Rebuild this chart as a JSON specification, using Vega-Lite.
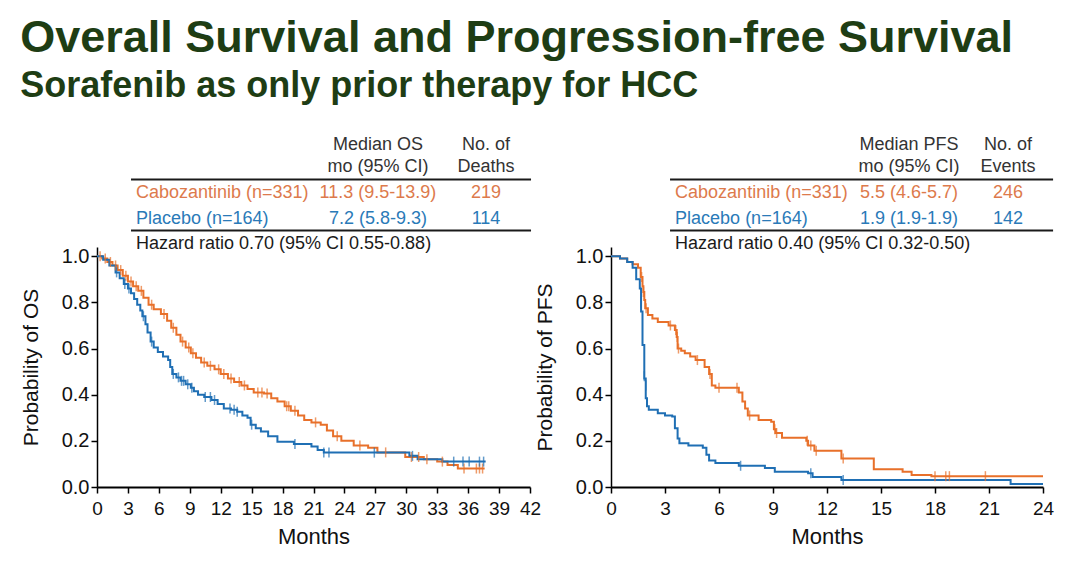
{
  "$schema": "https://vega.github.io/schema/vega-lite/v6.json",
  "background": "white",
  "padding": {"left": 20, "top": 16, "right": 10, "bottom": 10},
  "title": {
    "text": "Overall Survival and Progression-free Survival",
    "subtitle": "Sorafenib as only prior therapy for HCC",
    "anchor": "start",
    "font": "Liberation Sans",
    "fontSize": 45,
    "fontWeight": "bold",
    "color": "#1e3d14",
    "subtitleFont": "Liberation Sans",
    "subtitleFontSize": 36,
    "subtitleFontWeight": "bold",
    "subtitleColor": "#1e3d14",
    "subtitlePadding": 8,
    "offset": 32
  },
  "datasets": {
    "osCurve": [
      {"arm":"Cabozantinib","month":0,"prob":1.0},{"arm":"Cabozantinib","month":0.5,"prob":0.99},{"arm":"Cabozantinib","month":1.0,"prob":0.975},{"arm":"Cabozantinib","month":1.5,"prob":0.96},{"arm":"Cabozantinib","month":2.0,"prob":0.94},{"arm":"Cabozantinib","month":2.5,"prob":0.915},{"arm":"Cabozantinib","month":3.0,"prob":0.89},{"arm":"Cabozantinib","month":3.5,"prob":0.87},{"arm":"Cabozantinib","month":4.0,"prob":0.85},{"arm":"Cabozantinib","month":4.5,"prob":0.82},{"arm":"Cabozantinib","month":5.0,"prob":0.79},{"arm":"Cabozantinib","month":5.5,"prob":0.77},{"arm":"Cabozantinib","month":6.2,"prob":0.75},{"arm":"Cabozantinib","month":6.8,"prob":0.72},{"arm":"Cabozantinib","month":7.2,"prob":0.69},{"arm":"Cabozantinib","month":7.7,"prob":0.66},{"arm":"Cabozantinib","month":8.1,"prob":0.63},{"arm":"Cabozantinib","month":8.6,"prob":0.605},{"arm":"Cabozantinib","month":9.1,"prob":0.58},{"arm":"Cabozantinib","month":9.6,"prob":0.56},{"arm":"Cabozantinib","month":10.1,"prob":0.54},{"arm":"Cabozantinib","month":10.7,"prob":0.525},{"arm":"Cabozantinib","month":11.4,"prob":0.51},{"arm":"Cabozantinib","month":12.0,"prob":0.49},{"arm":"Cabozantinib","month":12.7,"prob":0.47},{"arm":"Cabozantinib","month":13.3,"prob":0.455},{"arm":"Cabozantinib","month":14.0,"prob":0.44},{"arm":"Cabozantinib","month":14.6,"prob":0.425},{"arm":"Cabozantinib","month":15.2,"prob":0.41},{"arm":"Cabozantinib","month":16.2,"prob":0.405},{"arm":"Cabozantinib","month":16.9,"prob":0.385},{"arm":"Cabozantinib","month":17.5,"prob":0.37},{"arm":"Cabozantinib","month":18.2,"prob":0.35},{"arm":"Cabozantinib","month":18.8,"prob":0.33},{"arm":"Cabozantinib","month":19.5,"prob":0.31},{"arm":"Cabozantinib","month":20.1,"prob":0.29},{"arm":"Cabozantinib","month":20.8,"prob":0.28},{"arm":"Cabozantinib","month":21.7,"prob":0.27},{"arm":"Cabozantinib","month":22.3,"prob":0.245},{"arm":"Cabozantinib","month":22.9,"prob":0.22},{"arm":"Cabozantinib","month":23.7,"prob":0.2},{"arm":"Cabozantinib","month":24.9,"prob":0.18},{"arm":"Cabozantinib","month":26.3,"prob":0.17},{"arm":"Cabozantinib","month":27.2,"prob":0.15},{"arm":"Cabozantinib","month":29.9,"prob":0.13},{"arm":"Cabozantinib","month":31.7,"prob":0.12},{"arm":"Cabozantinib","month":33.0,"prob":0.11},{"arm":"Cabozantinib","month":34.0,"prob":0.095},{"arm":"Cabozantinib","month":35.0,"prob":0.08},{"arm":"Cabozantinib","month":37.6,"prob":0.08},
      {"arm":"Placebo","month":0,"prob":1.0},{"arm":"Placebo","month":0.6,"prob":0.985},{"arm":"Placebo","month":1.2,"prob":0.96},{"arm":"Placebo","month":1.8,"prob":0.93},{"arm":"Placebo","month":2.2,"prob":0.905},{"arm":"Placebo","month":2.6,"prob":0.88},{"arm":"Placebo","month":3.0,"prob":0.86},{"arm":"Placebo","month":3.3,"prob":0.84},{"arm":"Placebo","month":3.6,"prob":0.815},{"arm":"Placebo","month":3.9,"prob":0.79},{"arm":"Placebo","month":4.2,"prob":0.765},{"arm":"Placebo","month":4.4,"prob":0.74},{"arm":"Placebo","month":4.7,"prob":0.705},{"arm":"Placebo","month":4.9,"prob":0.67},{"arm":"Placebo","month":5.2,"prob":0.63},{"arm":"Placebo","month":5.5,"prob":0.605},{"arm":"Placebo","month":5.9,"prob":0.585},{"arm":"Placebo","month":6.4,"prob":0.565},{"arm":"Placebo","month":6.9,"prob":0.55},{"arm":"Placebo","month":7.1,"prob":0.52},{"arm":"Placebo","month":7.3,"prob":0.49},{"arm":"Placebo","month":7.7,"prob":0.475},{"arm":"Placebo","month":8.1,"prob":0.46},{"arm":"Placebo","month":8.6,"prob":0.445},{"arm":"Placebo","month":9.1,"prob":0.43},{"arm":"Placebo","month":9.4,"prob":0.415},{"arm":"Placebo","month":9.8,"prob":0.4},{"arm":"Placebo","month":10.4,"prob":0.39},{"arm":"Placebo","month":11.1,"prob":0.377},{"arm":"Placebo","month":11.7,"prob":0.36},{"arm":"Placebo","month":12.3,"prob":0.34},{"arm":"Placebo","month":13.0,"prob":0.335},{"arm":"Placebo","month":13.6,"prob":0.326},{"arm":"Placebo","month":14.1,"prob":0.31},{"arm":"Placebo","month":14.6,"prob":0.3},{"arm":"Placebo","month":14.9,"prob":0.27},{"arm":"Placebo","month":15.4,"prob":0.255},{"arm":"Placebo","month":15.9,"prob":0.24},{"arm":"Placebo","month":16.6,"prob":0.22},{"arm":"Placebo","month":17.5,"prob":0.196},{"arm":"Placebo","month":19.1,"prob":0.186},{"arm":"Placebo","month":20.8,"prob":0.175},{"arm":"Placebo","month":21.4,"prob":0.16},{"arm":"Placebo","month":22.0,"prob":0.149},{"arm":"Placebo","month":30.3,"prob":0.135},{"arm":"Placebo","month":31.1,"prob":0.12},{"arm":"Placebo","month":33.5,"prob":0.11},{"arm":"Placebo","month":37.7,"prob":0.11}
    ],
    "osCensor": [
      {"arm":"Cabozantinib","month":0.3,"prob":1.0},{"arm":"Cabozantinib","month":0.8,"prob":0.99},{"arm":"Cabozantinib","month":1.3,"prob":0.975},{"arm":"Cabozantinib","month":1.8,"prob":0.96},{"arm":"Cabozantinib","month":2.3,"prob":0.94},{"arm":"Cabozantinib","month":2.8,"prob":0.915},{"arm":"Cabozantinib","month":3.3,"prob":0.89},{"arm":"Cabozantinib","month":3.8,"prob":0.87},{"arm":"Cabozantinib","month":4.3,"prob":0.85},{"arm":"Cabozantinib","month":5.3,"prob":0.79},{"arm":"Cabozantinib","month":6.5,"prob":0.75},{"arm":"Cabozantinib","month":7.4,"prob":0.69},{"arm":"Cabozantinib","month":8.3,"prob":0.63},{"arm":"Cabozantinib","month":8.9,"prob":0.605},{"arm":"Cabozantinib","month":9.3,"prob":0.58},{"arm":"Cabozantinib","month":10.4,"prob":0.54},{"arm":"Cabozantinib","month":11.0,"prob":0.525},{"arm":"Cabozantinib","month":11.8,"prob":0.51},{"arm":"Cabozantinib","month":12.3,"prob":0.49},{"arm":"Cabozantinib","month":13.0,"prob":0.47},{"arm":"Cabozantinib","month":13.8,"prob":0.455},{"arm":"Cabozantinib","month":14.3,"prob":0.44},{"arm":"Cabozantinib","month":15.6,"prob":0.41},{"arm":"Cabozantinib","month":16.0,"prob":0.41},{"arm":"Cabozantinib","month":16.5,"prob":0.405},{"arm":"Cabozantinib","month":18.4,"prob":0.35},{"arm":"Cabozantinib","month":18.6,"prob":0.35},{"arm":"Cabozantinib","month":19.2,"prob":0.33},{"arm":"Cabozantinib","month":21.2,"prob":0.28},{"arm":"Cabozantinib","month":23.3,"prob":0.22},{"arm":"Cabozantinib","month":25.5,"prob":0.18},{"arm":"Cabozantinib","month":28.0,"prob":0.15},{"arm":"Cabozantinib","month":30.5,"prob":0.13},{"arm":"Cabozantinib","month":31.2,"prob":0.13},{"arm":"Cabozantinib","month":32.0,"prob":0.12},{"arm":"Cabozantinib","month":33.5,"prob":0.11},{"arm":"Cabozantinib","month":35.6,"prob":0.08},{"arm":"Cabozantinib","month":36.8,"prob":0.08},{"arm":"Cabozantinib","month":37.1,"prob":0.08},{"arm":"Cabozantinib","month":37.4,"prob":0.08},
      {"arm":"Placebo","month":1.9,"prob":0.93},{"arm":"Placebo","month":2.7,"prob":0.88},{"arm":"Placebo","month":3.1,"prob":0.86},{"arm":"Placebo","month":4.5,"prob":0.74},{"arm":"Placebo","month":5.3,"prob":0.63},{"arm":"Placebo","month":7.4,"prob":0.49},{"arm":"Placebo","month":7.9,"prob":0.475},{"arm":"Placebo","month":8.2,"prob":0.46},{"arm":"Placebo","month":8.4,"prob":0.46},{"arm":"Placebo","month":8.8,"prob":0.445},{"arm":"Placebo","month":9.2,"prob":0.43},{"arm":"Placebo","month":10.5,"prob":0.39},{"arm":"Placebo","month":11.0,"prob":0.39},{"arm":"Placebo","month":11.4,"prob":0.377},{"arm":"Placebo","month":12.9,"prob":0.34},{"arm":"Placebo","month":13.3,"prob":0.335},{"arm":"Placebo","month":13.6,"prob":0.326},{"arm":"Placebo","month":15.0,"prob":0.27},{"arm":"Placebo","month":19.2,"prob":0.186},{"arm":"Placebo","month":22.0,"prob":0.149},{"arm":"Placebo","month":22.5,"prob":0.149},{"arm":"Placebo","month":26.9,"prob":0.149},{"arm":"Placebo","month":30.6,"prob":0.135},{"arm":"Placebo","month":34.6,"prob":0.11},{"arm":"Placebo","month":35.5,"prob":0.11},{"arm":"Placebo","month":36.1,"prob":0.11},{"arm":"Placebo","month":37.1,"prob":0.11},{"arm":"Placebo","month":37.5,"prob":0.11}
    ],
    "pfsCurve": [
      {"arm":"Cabozantinib","month":0,"prob":1.0},{"arm":"Cabozantinib","month":0.5,"prob":0.99},{"arm":"Cabozantinib","month":0.9,"prob":0.975},{"arm":"Cabozantinib","month":1.2,"prob":0.965},{"arm":"Cabozantinib","month":1.5,"prob":0.95},{"arm":"Cabozantinib","month":1.65,"prob":0.91},{"arm":"Cabozantinib","month":1.75,"prob":0.87},{"arm":"Cabozantinib","month":1.8,"prob":0.845},{"arm":"Cabozantinib","month":1.85,"prob":0.81},{"arm":"Cabozantinib","month":1.9,"prob":0.775},{"arm":"Cabozantinib","month":2.05,"prob":0.745},{"arm":"Cabozantinib","month":2.3,"prob":0.73},{"arm":"Cabozantinib","month":2.6,"prob":0.715},{"arm":"Cabozantinib","month":3.2,"prob":0.7},{"arm":"Cabozantinib","month":3.55,"prob":0.68},{"arm":"Cabozantinib","month":3.65,"prob":0.65},{"arm":"Cabozantinib","month":3.7,"prob":0.6},{"arm":"Cabozantinib","month":3.9,"prob":0.59},{"arm":"Cabozantinib","month":4.1,"prob":0.58},{"arm":"Cabozantinib","month":4.4,"prob":0.565},{"arm":"Cabozantinib","month":4.7,"prob":0.55},{"arm":"Cabozantinib","month":5.2,"prob":0.52},{"arm":"Cabozantinib","month":5.45,"prob":0.49},{"arm":"Cabozantinib","month":5.6,"prob":0.44},{"arm":"Cabozantinib","month":5.8,"prob":0.43},{"arm":"Cabozantinib","month":7.1,"prob":0.41},{"arm":"Cabozantinib","month":7.3,"prob":0.37},{"arm":"Cabozantinib","month":7.45,"prob":0.34},{"arm":"Cabozantinib","month":7.6,"prob":0.31},{"arm":"Cabozantinib","month":8.2,"prob":0.29},{"arm":"Cabozantinib","month":8.9,"prob":0.283},{"arm":"Cabozantinib","month":9.05,"prob":0.25},{"arm":"Cabozantinib","month":9.15,"prob":0.234},{"arm":"Cabozantinib","month":9.5,"prob":0.213},{"arm":"Cabozantinib","month":10.85,"prob":0.2},{"arm":"Cabozantinib","month":10.95,"prob":0.18},{"arm":"Cabozantinib","month":11.3,"prob":0.157},{"arm":"Cabozantinib","month":12.8,"prob":0.124},{"arm":"Cabozantinib","month":14.6,"prob":0.077},{"arm":"Cabozantinib","month":16.2,"prob":0.066},{"arm":"Cabozantinib","month":16.7,"prob":0.052},{"arm":"Cabozantinib","month":17.8,"prob":0.047},{"arm":"Cabozantinib","month":24,"prob":0.047},
      {"arm":"Placebo","month":0,"prob":1.0},{"arm":"Placebo","month":0.5,"prob":0.99},{"arm":"Placebo","month":0.9,"prob":0.975},{"arm":"Placebo","month":1.2,"prob":0.95},{"arm":"Placebo","month":1.4,"prob":0.9},{"arm":"Placebo","month":1.6,"prob":0.86},{"arm":"Placebo","month":1.67,"prob":0.76},{"arm":"Placebo","month":1.75,"prob":0.615},{"arm":"Placebo","month":1.85,"prob":0.47},{"arm":"Placebo","month":1.93,"prob":0.385},{"arm":"Placebo","month":2.0,"prob":0.35},{"arm":"Placebo","month":2.1,"prob":0.335},{"arm":"Placebo","month":2.6,"prob":0.32},{"arm":"Placebo","month":3.0,"prob":0.31},{"arm":"Placebo","month":3.4,"prob":0.305},{"arm":"Placebo","month":3.55,"prob":0.255},{"arm":"Placebo","month":3.7,"prob":0.21},{"arm":"Placebo","month":3.8,"prob":0.19},{"arm":"Placebo","month":4.3,"prob":0.18},{"arm":"Placebo","month":5.1,"prob":0.17},{"arm":"Placebo","month":5.3,"prob":0.14},{"arm":"Placebo","month":5.45,"prob":0.115},{"arm":"Placebo","month":5.8,"prob":0.104},{"arm":"Placebo","month":7.1,"prob":0.092},{"arm":"Placebo","month":8.55,"prob":0.082},{"arm":"Placebo","month":9.1,"prob":0.066},{"arm":"Placebo","month":10.95,"prob":0.06},{"arm":"Placebo","month":11.2,"prob":0.043},{"arm":"Placebo","month":12.8,"prob":0.03},{"arm":"Placebo","month":22.2,"prob":0.013},{"arm":"Placebo","month":24,"prob":0.013}
    ],
    "pfsCensor": [
      {"arm":"Cabozantinib","month":1.7,"prob":0.91},{"arm":"Cabozantinib","month":1.8,"prob":0.845},{"arm":"Cabozantinib","month":1.95,"prob":0.775},{"arm":"Cabozantinib","month":3.3,"prob":0.7},{"arm":"Cabozantinib","month":3.6,"prob":0.68},{"arm":"Cabozantinib","month":3.68,"prob":0.65},{"arm":"Cabozantinib","month":3.75,"prob":0.6},{"arm":"Cabozantinib","month":4.8,"prob":0.55},{"arm":"Cabozantinib","month":5.5,"prob":0.49},{"arm":"Cabozantinib","month":6.0,"prob":0.43},{"arm":"Cabozantinib","month":7.0,"prob":0.43},{"arm":"Cabozantinib","month":7.7,"prob":0.31},{"arm":"Cabozantinib","month":9.1,"prob":0.25},{"arm":"Cabozantinib","month":9.2,"prob":0.234},{"arm":"Cabozantinib","month":10.9,"prob":0.2},{"arm":"Cabozantinib","month":11.1,"prob":0.18},{"arm":"Cabozantinib","month":11.4,"prob":0.157},{"arm":"Cabozantinib","month":12.9,"prob":0.124},{"arm":"Cabozantinib","month":18.0,"prob":0.047},{"arm":"Cabozantinib","month":18.6,"prob":0.047},{"arm":"Cabozantinib","month":18.8,"prob":0.047},{"arm":"Cabozantinib","month":20.8,"prob":0.047},
      {"arm":"Placebo","month":1.67,"prob":0.8},{"arm":"Placebo","month":1.85,"prob":0.48},{"arm":"Placebo","month":1.93,"prob":0.44},{"arm":"Placebo","month":7.2,"prob":0.092},{"arm":"Placebo","month":11.1,"prob":0.06},{"arm":"Placebo","month":12.9,"prob":0.03}
    ],
    "osTable": [
      {"month":27.25,"prob":1.482,"label":"Median OS","role":"header","col":"c"},
      {"month":27.25,"prob":1.386,"label":"mo (95% CI)","role":"header","col":"c"},
      {"month":37.73,"prob":1.482,"label":"No. of","role":"header","col":"c"},
      {"month":37.73,"prob":1.386,"label":"Deaths","role":"header","col":"c"},
      {"month":3.78,"prob":1.274,"label":"Cabozantinib (n=331)","role":"Cabozantinib","col":"l"},
      {"month":27.25,"prob":1.274,"label":"11.3 (9.5-13.9)","role":"Cabozantinib","col":"c"},
      {"month":37.73,"prob":1.274,"label":"219","role":"Cabozantinib","col":"c"},
      {"month":3.78,"prob":1.163,"label":"Placebo (n=164)","role":"Placebo","col":"l"},
      {"month":27.25,"prob":1.163,"label":"7.2 (5.8-9.3)","role":"Placebo","col":"c"},
      {"month":37.73,"prob":1.163,"label":"114","role":"Placebo","col":"c"},
      {"month":3.78,"prob":1.051,"label":"Hazard ratio 0.70 (95% CI 0.55-0.88)","role":"hr","col":"l"}
    ],
    "osRules": [
      {"month":3.3,"month2":42.1,"prob":1.332},
      {"month":3.3,"month2":42.1,"prob":1.111}
    ],
    "pfsTable": [
      {"month":16.56,"prob":1.482,"label":"Median PFS","role":"header","col":"c"},
      {"month":16.56,"prob":1.386,"label":"mo (95% CI)","role":"header","col":"c"},
      {"month":22.06,"prob":1.482,"label":"No. of","role":"header","col":"c"},
      {"month":22.06,"prob":1.386,"label":"Events","role":"header","col":"c"},
      {"month":3.56,"prob":1.274,"label":"Cabozantinib (n=331)","role":"Cabozantinib","col":"l"},
      {"month":16.56,"prob":1.274,"label":"5.5 (4.6-5.7)","role":"Cabozantinib","col":"c"},
      {"month":22.06,"prob":1.274,"label":"246","role":"Cabozantinib","col":"c"},
      {"month":3.56,"prob":1.163,"label":"Placebo (n=164)","role":"Placebo","col":"l"},
      {"month":16.56,"prob":1.163,"label":"1.9 (1.9-1.9)","role":"Placebo","col":"c"},
      {"month":22.06,"prob":1.163,"label":"142","role":"Placebo","col":"c"},
      {"month":3.56,"prob":1.051,"label":"Hazard ratio 0.40 (95% CI 0.32-0.50)","role":"hr","col":"l"}
    ],
    "pfsRules": [
      {"month":3.28,"month2":24.56,"prob":1.332},
      {"month":3.28,"month2":24.56,"prob":1.111}
    ]
  },
  "spacing": -7,
  "resolve": {"scale": {"x": "independent", "y": "independent"}},
  "hconcat": [
    {
      "width": 433,
      "height": 240,
      "layer": [
        {
          "data": {"name": "osCurve"},
          "mark": {"type": "line", "interpolate": "step-after", "strokeWidth": 2},
          "encoding": {
            "x": {"field": "month", "type": "quantitative", "title": "Months", "scale": {"domain": [0, 42], "nice": false}, "axis": {"values": [0,3,6,9,12,15,18,21,24,27,30,33,36,39,42], "labelOverlap": false, "labelSeparation": -12}},
            "y": {"field": "prob", "type": "quantitative", "title": "Probability of OS", "scale": {"domain": [0, 1.04], "nice": false}, "axis": {"values": [0,0.2,0.4,0.6,0.8,1.0], "format": ".1f"}},
            "color": {"field": "arm", "type": "nominal", "scale": {"domain": ["Cabozantinib", "Placebo"], "range": ["#e8702a", "#1f6fb4"]}, "legend": null},
            "detail": {"field": "arm"}
          }
        },
        {
          "data": {"name": "osCensor"},
          "mark": {"type": "tick", "orient": "vertical", "size": 10, "thickness": 1.5},
          "encoding": {
            "x": {"field": "month", "type": "quantitative", "title": "Months", "axis": {"values": [0,3,6,9,12,15,18,21,24,27,30,33,36,39,42], "labelOverlap": false, "labelSeparation": -12}},
            "y": {"field": "prob", "type": "quantitative", "title": "Probability of OS"},
            "color": {"field": "arm", "type": "nominal", "legend": null}
          }
        },
        {
          "data": {"name": "osRules"},
          "mark": {"type": "rule", "strokeWidth": 2, "color": "#1a1a1a"},
          "encoding": {
            "x": {"field": "month", "type": "quantitative", "title": "Months", "axis": {"values": [0,3,6,9,12,15,18,21,24,27,30,33,36,39,42], "labelOverlap": false, "labelSeparation": -12}},
            "x2": {"field": "month2"},
            "y": {"field": "prob", "type": "quantitative", "title": "Probability of OS"}
          }
        },
        {
          "data": {"name": "osTable"},
          "transform": [{"filter": "datum.col == 'l'"}],
          "mark": {"type": "text", "align": "left", "baseline": "middle", "fontSize": 18, "font": "Liberation Sans"},
          "encoding": {
            "x": {"field": "month", "type": "quantitative", "title": "Months", "axis": {"values": [0,3,6,9,12,15,18,21,24,27,30,33,36,39,42], "labelOverlap": false, "labelSeparation": -12}},
            "y": {"field": "prob", "type": "quantitative", "title": "Probability of OS"},
            "text": {"field": "label"},
            "fill": {"field": "role", "type": "nominal", "scale": {"domain": ["header", "Cabozantinib", "Placebo", "hr"], "range": ["#333333", "#dd7a4c", "#2a7ab8", "#1a1a1a"]}, "legend": null}
          }
        },
        {
          "data": {"name": "osTable"},
          "transform": [{"filter": "datum.col == 'c'"}],
          "mark": {"type": "text", "align": "center", "baseline": "middle", "fontSize": 18, "font": "Liberation Sans"},
          "encoding": {
            "x": {"field": "month", "type": "quantitative", "title": "Months", "axis": {"values": [0,3,6,9,12,15,18,21,24,27,30,33,36,39,42], "labelOverlap": false, "labelSeparation": -12}},
            "y": {"field": "prob", "type": "quantitative", "title": "Probability of OS"},
            "text": {"field": "label"},
            "fill": {"field": "role", "type": "nominal", "legend": null}
          }
        }
      ]
    },
    {
      "width": 432,
      "height": 240,
      "layer": [
        {
          "data": {"name": "pfsCurve"},
          "mark": {"type": "line", "interpolate": "step-after", "strokeWidth": 2},
          "encoding": {
            "x": {"field": "month", "type": "quantitative", "title": "Months", "scale": {"domain": [0, 24], "nice": false}, "axis": {"values": [0,3,6,9,12,15,18,21,24], "labelOverlap": false}},
            "y": {"field": "prob", "type": "quantitative", "title": "Probability of PFS", "scale": {"domain": [0, 1.04], "nice": false}, "axis": {"values": [0,0.2,0.4,0.6,0.8,1.0], "format": ".1f"}},
            "color": {"field": "arm", "type": "nominal", "scale": {"domain": ["Cabozantinib", "Placebo"], "range": ["#e8702a", "#1f6fb4"]}, "legend": null},
            "detail": {"field": "arm"}
          }
        },
        {
          "data": {"name": "pfsCensor"},
          "mark": {"type": "tick", "orient": "vertical", "size": 10, "thickness": 1.5},
          "encoding": {
            "x": {"field": "month", "type": "quantitative", "title": "Months"},
            "y": {"field": "prob", "type": "quantitative", "title": "Probability of PFS"},
            "color": {"field": "arm", "type": "nominal", "legend": null}
          }
        },
        {
          "data": {"name": "pfsRules"},
          "mark": {"type": "rule", "strokeWidth": 2, "color": "#1a1a1a"},
          "encoding": {
            "x": {"field": "month", "type": "quantitative", "title": "Months"},
            "x2": {"field": "month2"},
            "y": {"field": "prob", "type": "quantitative", "title": "Probability of PFS"}
          }
        },
        {
          "data": {"name": "pfsTable"},
          "transform": [{"filter": "datum.col == 'l'"}],
          "mark": {"type": "text", "align": "left", "baseline": "middle", "fontSize": 18, "font": "Liberation Sans"},
          "encoding": {
            "x": {"field": "month", "type": "quantitative", "title": "Months"},
            "y": {"field": "prob", "type": "quantitative", "title": "Probability of PFS"},
            "text": {"field": "label"},
            "fill": {"field": "role", "type": "nominal", "scale": {"domain": ["header", "Cabozantinib", "Placebo", "hr"], "range": ["#333333", "#dd7a4c", "#2a7ab8", "#1a1a1a"]}, "legend": null}
          }
        },
        {
          "data": {"name": "pfsTable"},
          "transform": [{"filter": "datum.col == 'c'"}],
          "mark": {"type": "text", "align": "center", "baseline": "middle", "fontSize": 18, "font": "Liberation Sans"},
          "encoding": {
            "x": {"field": "month", "type": "quantitative", "title": "Months"},
            "y": {"field": "prob", "type": "quantitative", "title": "Probability of PFS"},
            "text": {"field": "label"},
            "fill": {"field": "role", "type": "nominal", "legend": null}
          }
        }
      ]
    }
  ],
  "config": {
    "view": {"stroke": null},
    "axis": {
      "grid": false,
      "labelOverlap": false,
      "domainColor": "#000000",
      "tickColor": "#000000",
      "tickSize": 6,
      "tickWidth": 1.5,
      "labelColor": "#111111",
      "titleColor": "#111111",
      "titleFontWeight": "normal"
    },
    "axisX": {
      "domainWidth": 2,
      "labelFont": "Liberation Sans",
      "labelFontSize": 19,
      "labelPadding": 6,
      "labelOverlap": false,
      "labelFlush": false,
      "titleFont": "Liberation Sans",
      "titleFontSize": 22,
      "titlePadding": 8
    },
    "axisY": {
      "domainWidth": 1.5,
      "labelFont": "Liberation Sans",
      "labelFontSize": 20,
      "labelPadding": 2,
      "titleFont": "Liberation Sans",
      "titleFontSize": 21,
      "titlePadding": 20
    }
  }
}
